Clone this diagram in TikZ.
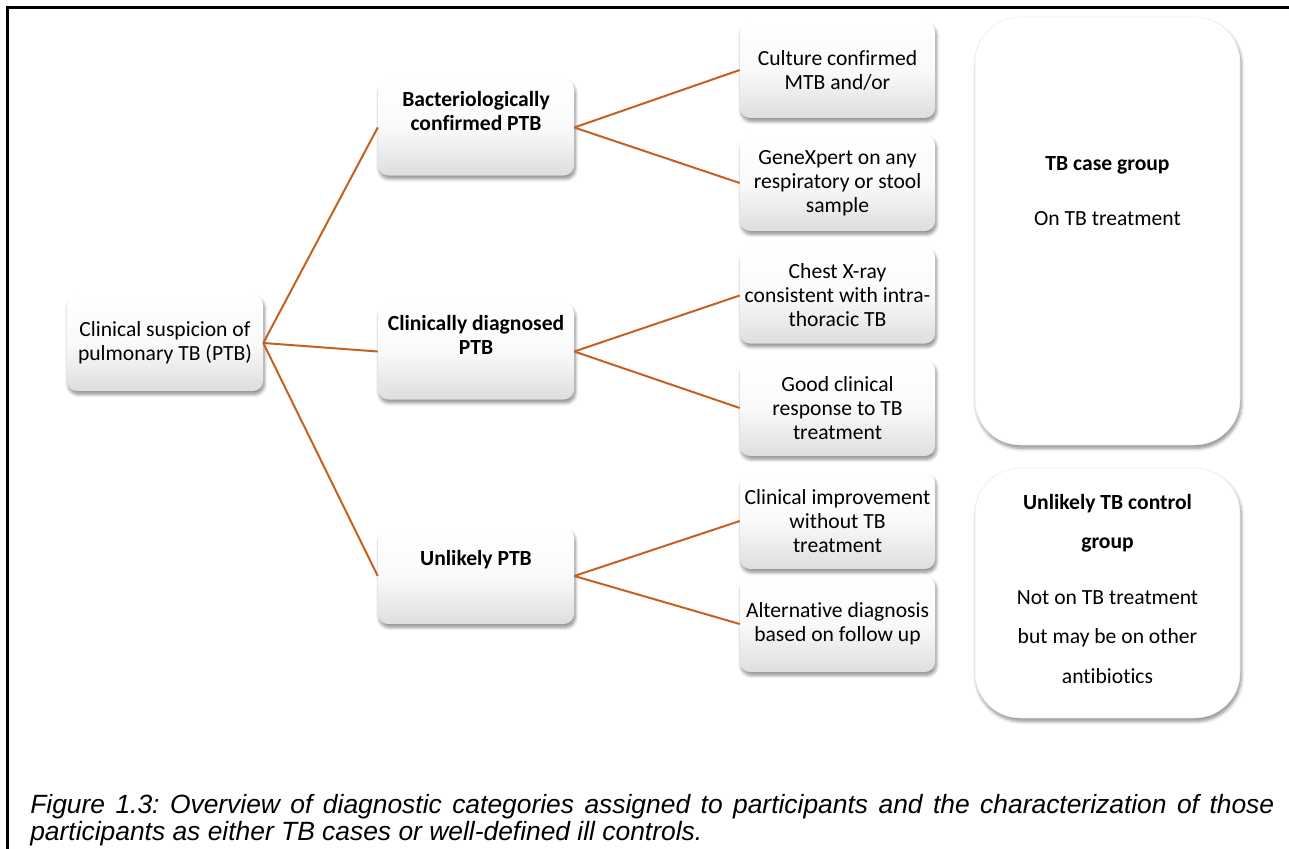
\documentclass[tikz,border=0pt]{standalone}
\usepackage{fontspec}
\setmainfont{Carlito}[RawFeature={-liga}]
\newfontfamily\capfont{Liberation Sans}
\usetikzlibrary{shadows.blur}
\definecolor{linkorange}{RGB}{197,97,30}
\frenchspacing

\begin{document}
\begin{tikzpicture}[x=0.75pt,y=-0.75pt,
  softshadow/.style={blur shadow={shadow blur steps=6, shadow xshift=1pt,
      shadow yshift=-2.5pt, shadow opacity=45, shadow blur radius=2.5pt}},
  card/.style={rounded corners=7.5pt, minimum width=147pt, minimum height=72pt,
      inner sep=0pt, top color=white, bottom color=black!13, middle color=black!2,
      softshadow},
  bigcard/.style={rounded corners=34pt, minimum width=198.75pt, inner sep=0pt,
      fill=white, draw=black!8, line width=0.4pt, softshadow},
  txt/.style={align=center, inner sep=0pt, font=\fontsize{16.2}{18}\selectfont},
  boldtxt/.style={align=center, inner sep=0pt, font=\fontsize{16.2}{18}\selectfont\bfseries},
  link/.style={draw=linkorange, line width=1.5pt},
]
\useasboundingbox (0,0) rectangle (1289,849);

% frame (top and left edges)
\draw[line width=2.25pt] (7.5,849) -- (7.5,7.5) -- (1289,7.5);

% root
\node[card, txt] (root) at (165,343) {Clinical suspicion of\\pulmonary TB (PTB)};

% diagnostic categories
\node[card] (bac) at (476,127.5) {};
\node[boldtxt] at ([yshift=-24pt]bac.north) {Bacteriologically\\confirmed PTB};
\node[card] (cli) at (476,351.5) {};
\node[boldtxt] at ([yshift=-24pt]cli.north) {Clinically diagnosed\\PTB};
\node[card] (unl) at (476,576) {};
\node[boldtxt] at ([yshift=-24pt]unl.north) {Unlikely PTB};

% criteria
\node[card, txt, minimum width=146.25pt] (cul) at (837.5,70) {Culture confirmed\\MTB and/or};
\node[card, txt, minimum width=146.25pt] (gen) at (837.5,183) {GeneXpert on any\\respiratory or stool\\sample};
\node[card, txt, minimum width=146.25pt] (cxr) at (837.5,295.5) {Chest X-ray\\consistent with intra-\\thoracic TB};
\node[card, txt, minimum width=146.25pt] (res) at (837.5,408) {Good clinical\\response to TB\\treatment};
\node[card, txt, minimum width=146.25pt] (imp) at (837.5,521) {Clinical improvement\\without TB\\treatment};
\node[card, txt, minimum width=146.25pt] (alt) at (837.5,624) {Alternative diagnosis\\based on follow up};

% groups
\node[bigcard, minimum height=321pt] (case) at (1107.5,231) {};
\node[boldtxt] at (1107.5,165) {TB case group};
\node[txt] at (1107.5,219) {On TB treatment};
\node[bigcard, minimum height=187.5pt] (ctrl) at (1107.5,593) {};
\node[boldtxt, font=\fontsize{16.2}{29.5}\selectfont\bfseries] at (1107.5,523) {Unlikely TB control\\group};
\node[txt, font=\fontsize{16.2}{29.5}\selectfont] at (1107.5,637) {Not on TB treatment\\but may be on other\\antibiotics};

% connectors
\draw[link] (root.east) -- (bac.west);
\draw[link] (root.east) -- (cli.west);
\draw[link] (root.east) -- (unl.west);
\draw[link] (bac.east) -- (cul.west);
\draw[link] (bac.east) -- (gen.west);
\draw[link] (cli.east) -- (cxr.west);
\draw[link] (cli.east) -- (res.west);
\draw[link] (unl.east) -- (imp.west);
\draw[link] (unl.east) -- (alt.west);

% caption
\node[anchor=base west, text width=933pt, inner sep=0pt, align=justify,
      font=\capfont\itshape\fontsize{19.8}{20.25}\selectfont] (cap) at (30,813)
  {Figure 1.3: Overview of diagnostic categories assigned to participants and the characterization of those\linebreak
   participants as either TB cases or well-defined ill controls.};
\end{tikzpicture}
\end{document}
